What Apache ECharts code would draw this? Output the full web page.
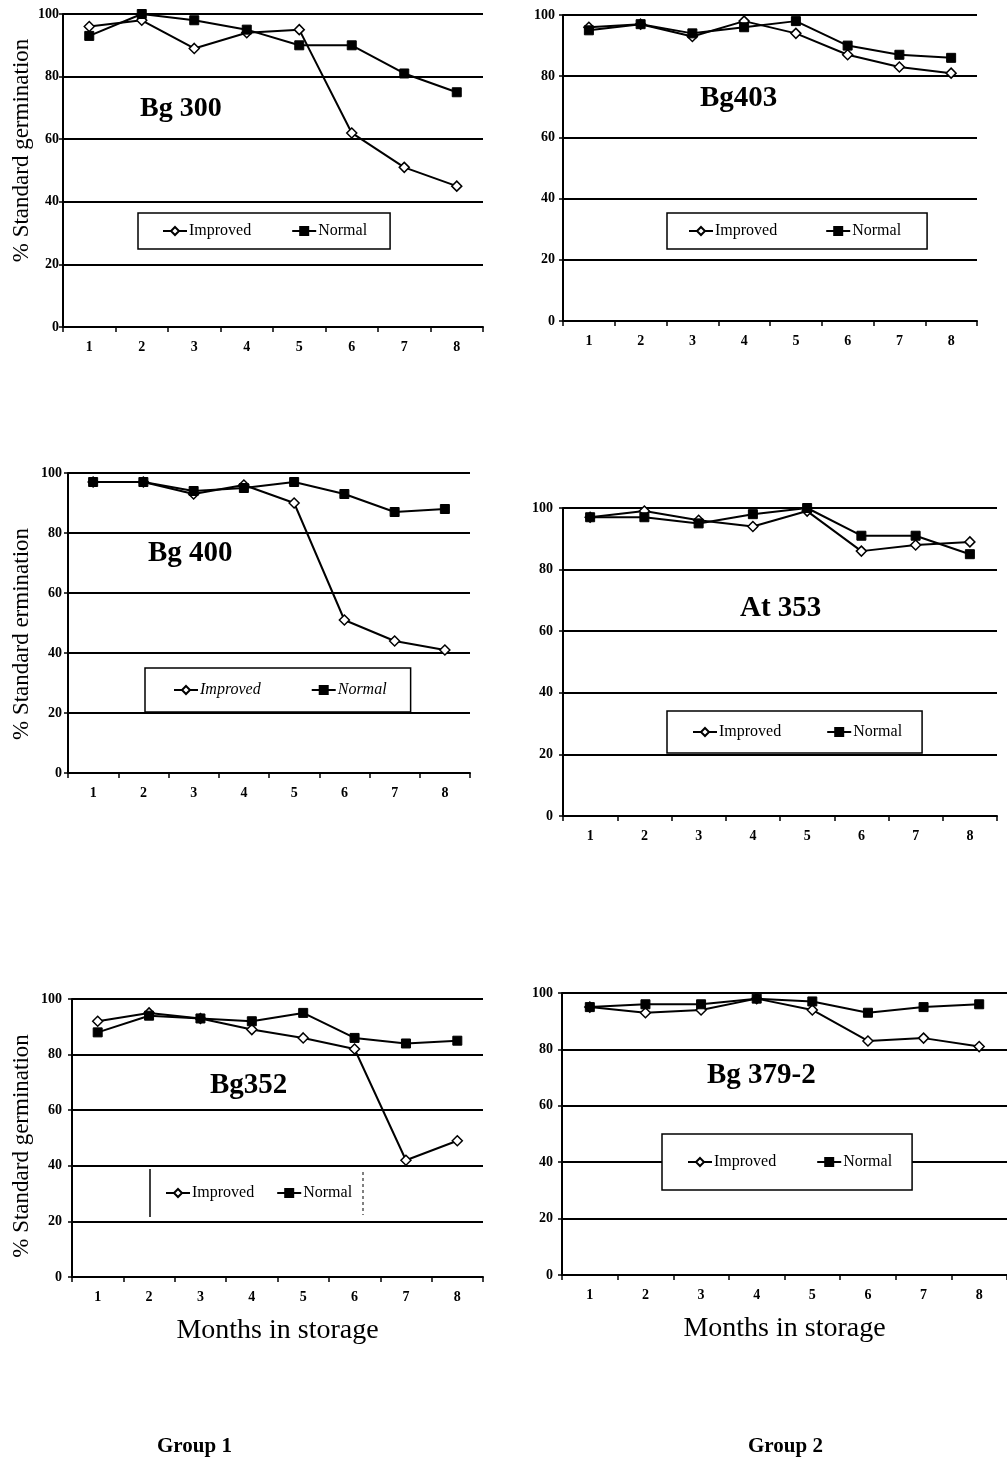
<!DOCTYPE html>
<html>
<head>
<meta charset="utf-8">
<script src="https://cdn.jsdelivr.net/npm/echarts@6/dist/echarts.min.js"></script>
<style>
html,body{margin:0;padding:0;background:#fff;}
#c{width:1007px;height:1463px;}
</style>
</head>
<body>
<div id="c"></div>
<script>
// ---- data ----
const months = ['1','2','3','4','5','6','7','8'];
const yTicks = [0, 20, 40, 60, 80, 100];
const seriesNames = ['Improved', 'Normal'];
const chartTitles = ['Bg 300', 'Bg403', 'Bg 400', 'At 353', 'Bg352', 'Bg 379-2'];
const yNames = ['% Standard germination', '', '% Standard ermination', '', '% Standard germination', ''];
const xName = 'Months in storage';
const groupLabels = ['Group 1', 'Group 2'];

const bg300Improved = [96, 98, 89, 94, 95, 62, 51, 45];
const bg300Normal   = [93, 100, 98, 95, 90, 90, 81, 75];
const bg403Improved = [96, 97, 93, 98, 94, 87, 83, 81];
const bg403Normal   = [95, 97, 94, 96, 98, 90, 87, 86];
const bg400Improved = [97, 97, 93, 96, 90, 51, 44, 41];
const bg400Normal   = [97, 97, 94, 95, 97, 93, 87, 88];
const at353Improved = [97, 99, 96, 94, 99, 86, 88, 89];
const at353Normal   = [97, 97, 95, 98, 100, 91, 91, 85];
const bg352Improved = [92, 95, 93, 89, 86, 82, 42, 49];
const bg352Normal   = [88, 94, 93, 92, 95, 86, 84, 85];
const bg3792Improved = [95, 93, 94, 98, 94, 83, 84, 81];
const bg3792Normal   = [95, 96, 96, 98, 97, 93, 95, 96];

const improvedSets = [bg300Improved, bg403Improved, bg400Improved, at353Improved, bg352Improved, bg3792Improved];
const normalSets   = [bg300Normal, bg403Normal, bg400Normal, at353Normal, bg352Normal, bg3792Normal];

// ---- layout (positions only) ----
const FONT = '"Liberation Serif", "Times New Roman", serif';
const grids = [
  {left: 63, top: 14, width: 420, height: 313},
  {left: 563, top: 15, width: 414, height: 306},
  {left: 68, top: 473, width: 402, height: 300},
  {left: 563, top: 508, width: 434, height: 308},
  {left: 72, top: 999, width: 411, height: 278},
  {left: 562, top: 993, width: 445, height: 282}
];
const labelMargins = [4, 8, 6, 10, 10, 9];
const nameGaps = [30, 0, 35, 0, 39, 0];
const namePads = [[0,0,0,40], [0,0,0,0], [0,22,0,0], [0,0,0,0], [0,16,0,0], [0,0,0,0]];
const titlePos = [[140, 95], [700, 84], [148, 539], [740, 594], [210, 1071], [707, 1061]];
const titleSizes = [28, 29, 29, 29, 29, 29];
const legendPos = [
  {left: 138, top: 213, padding: [10, 23, 10, 24], gap: 40},
  {left: 667, top: 213, padding: [10, 26, 10, 21], gap: 48},
  {left: 145, top: 668, padding: [14, 24, 14, 28], gap: 50},
  {left: 667, top: 711, padding: [13, 20, 13, 25], gap: 45},
  {left: 150, top: 1169, padding: [16, 8, 16, 15], gap: 22},
  {left: 662, top: 1134, padding: [20, 20, 20, 25], gap: 40}
];
const legendBorders = [1.5, 1.5, 1.5, 1.5, 0, 1.5];
const legendItalic = [false, false, true, false, false, false];

const option = {
  backgroundColor: '#fff',
  animation: false,
  grid: grids.map(g => Object.assign({containLabel: false}, g)),
  title: chartTitles.map((t, i) => ({
    text: t, left: titlePos[i][0], top: titlePos[i][1], padding: 0,
    textStyle: {fontFamily: FONT, fontWeight: 'bold', fontSize: titleSizes[i], color: '#000'}
  })).concat([
    {text: groupLabels[0], left: 157, top: 1436, padding: 0,
     textStyle: {fontFamily: FONT, fontWeight: 'bold', fontSize: 21, color: '#000'}},
    {text: groupLabels[1], left: 748, top: 1436, padding: 0,
     textStyle: {fontFamily: FONT, fontWeight: 'bold', fontSize: 21, color: '#000'}}
  ]),
  legend: legendPos.map((p, i) => ({
    data: seriesNames,
    left: p.left, top: p.top, padding: p.padding,
    orient: 'horizontal',
    itemGap: p.gap, itemWidth: 24, itemHeight: 10,
    backgroundColor: '#fff',
    borderColor: '#000', borderWidth: legendBorders[i], borderRadius: 0,
    selectedMode: false,
    textStyle: {fontFamily: FONT, fontSize: 16, color: '#000', fontStyle: legendItalic[i] ? 'italic' : 'normal', padding: [0,0,0,-3]}
  })),
  xAxis: grids.map((g, i) => ({
    type: 'category', gridIndex: i, data: months, boundaryGap: true,
    name: i >= 4 ? xName : '', nameLocation: 'middle', nameGap: 40,
    nameTextStyle: {fontFamily: FONT, fontSize: 28, color: '#000'},
    axisLine: {show: true, lineStyle: {color: '#000', width: 2}},
    axisTick: {show: true, length: 5, alignWithLabel: false, lineStyle: {color: '#000', width: 1.5}},
    axisLabel: {fontFamily: FONT, fontWeight: 'bold', fontSize: 14, color: '#000', margin: 13},
    splitLine: {show: false}
  })),
  yAxis: grids.map((g, i) => ({
    type: 'value', gridIndex: i, min: yTicks[0], max: yTicks[yTicks.length - 1], interval: yTicks[1] - yTicks[0],
    name: yNames[i], nameLocation: 'middle', nameGap: nameGaps[i],
    nameTextStyle: {fontFamily: FONT, fontSize: 23, color: '#000', padding: namePads[i]},
    axisLine: {show: true, lineStyle: {color: '#000', width: 2}},
    axisTick: {show: true, length: 4, lineStyle: {color: '#000', width: 1.5}},
    axisLabel: {fontFamily: FONT, fontWeight: 'bold', fontSize: 14, color: '#000', margin: labelMargins[i]},
    splitLine: {show: true, lineStyle: {color: '#000', width: 2}}
  })),
  series: []
};

grids.forEach((g, i) => {
  option.series.push({
    name: seriesNames[0], type: 'line', xAxisIndex: i, yAxisIndex: i,
    data: improvedSets[i],
    symbol: 'diamond', symbolSize: 10,
    lineStyle: {color: '#000', width: 2},
    itemStyle: {color: '#fff', borderColor: '#000', borderWidth: 1.5},
    z: 3
  });
  option.series.push({
    name: seriesNames[1], type: 'line', xAxisIndex: i, yAxisIndex: i,
    data: normalSets[i],
    symbol: 'rect', symbolSize: 9,
    lineStyle: {color: '#000', width: 2},
    itemStyle: {color: '#000', borderColor: '#000', borderWidth: 1},
    z: 4
  });
});

// Bg352 legend box shows only side borders in the reference
option.graphic = [
  {type: 'line', z: 100, shape: {x1: 150, y1: 1169, x2: 150, y2: 1217}, style: {stroke: '#000', lineWidth: 1.5}},
  {type: 'line', z: 100, shape: {x1: 363, y1: 1172, x2: 363, y2: 1215}, style: {stroke: '#000', lineWidth: 1, lineDash: [3, 3]}}
];

const chart = echarts.init(document.getElementById('c'), null, {renderer: 'canvas'});
chart.setOption(option);
</script>
</body>
</html>
